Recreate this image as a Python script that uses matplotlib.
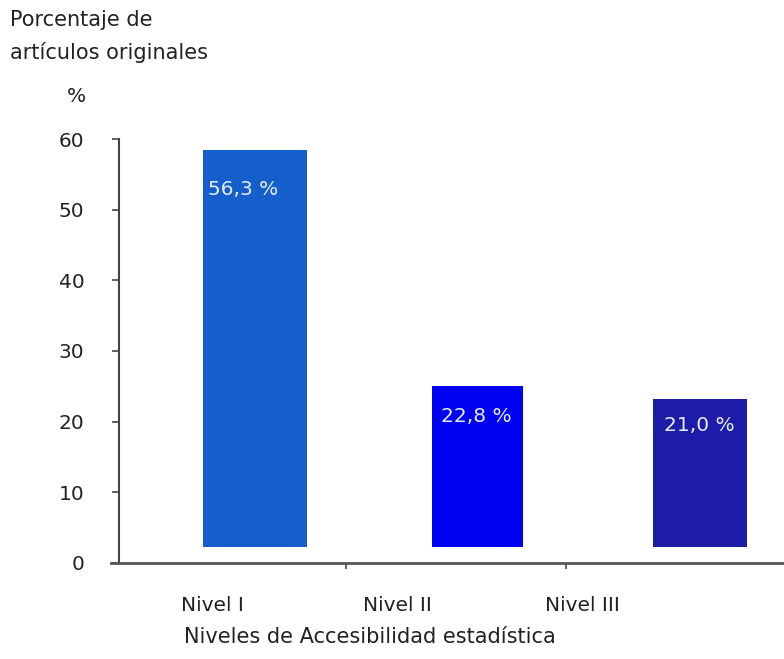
import matplotlib
matplotlib.use("Agg")
import matplotlib.pyplot as plt

# donnees du graphe
niveles = ["Nivel I", "Nivel II", "Nivel III"]
porcentajes = [56.3, 22.8, 21.0]
etiquetas = ["56,3 %", "22,8 %", "21,0 %"]
colores = ["#155fcc", "#0000f2", "#1c1ca8"]
yticks = [0, 10, 20, 30, 40, 50, 60]

plt.rcParams['font.family'] = ['DejaVu Sans']

fig = plt.figure(figsize=(7.84, 6.59), dpi=100)
ax = fig.add_axes([0.152, 0.146, 0.848, 0.643])

# position des barres (le dessin original n'est pas centre)
pos = [0, 1, 2]
largeurs = [0.47, 0.41, 0.42]
base = 2.2
bars = ax.bar(pos, porcentajes, width=largeurs, bottom=base, color=colores)

# etiquettes dans les barres, coupees au bord de la barre
decal = [0.025, 0.04, 0.05]
descente = [5.7, 4.3, 3.7]
for b, t, d, dy, v in zip(bars, etiquetas, decal, descente, porcentajes):
    txt = ax.text(b.get_x() + d, v + base - dy, t, color="#e4ecff",
                  fontsize=14.5, ha="left", va="center")
    txt.set_clip_path(b)

ax.set_xlim(-0.611, 2.378)
ax.set_ylim(0, 60)

# labels des niveaux decales a gauche comme dans l'original
ax.set_xticks([-0.193, 0.638, 1.47])
ax.set_xticklabels(niveles, fontsize=14.5, color="#222222")
ax.tick_params(axis="x", length=0, pad=24)
ax.set_xticks([0.409, 1.398], minor=True)
ax.tick_params(axis="x", which="minor", length=4, width=1.2, color="#444444", direction="out")

ax.set_yticks(yticks)
ax.set_yticklabels([str(v) for v in yticks], fontsize=14.5, color="#222222")
ax.tick_params(axis="y", length=5, width=1.2, color="#444444", pad=20)

for s in ["top", "right"]:
    ax.spines[s].set_visible(False)
ax.spines["left"].set_color("#444444")
ax.spines["left"].set_linewidth(1.5)
ax.spines["bottom"].set_color("#555555")
ax.spines["bottom"].set_linewidth(2)
ax.spines["bottom"].set_bounds(-0.646, 2.378)

fig.text(0.013, 0.97, "Porcentaje de", fontsize=15, color="#222222", va="center")
fig.text(0.013, 0.921, "artículos originales", fontsize=15, color="#222222", va="center")
fig.text(0.098, 0.853, "%", fontsize=14.5, color="#222222", va="center", ha="center")
fig.text(0.472, 0.033, "Niveles de Accesibilidad estadística", fontsize=15,
         color="#222222", va="center", ha="center")

plt.savefig("out.png", dpi=100)
